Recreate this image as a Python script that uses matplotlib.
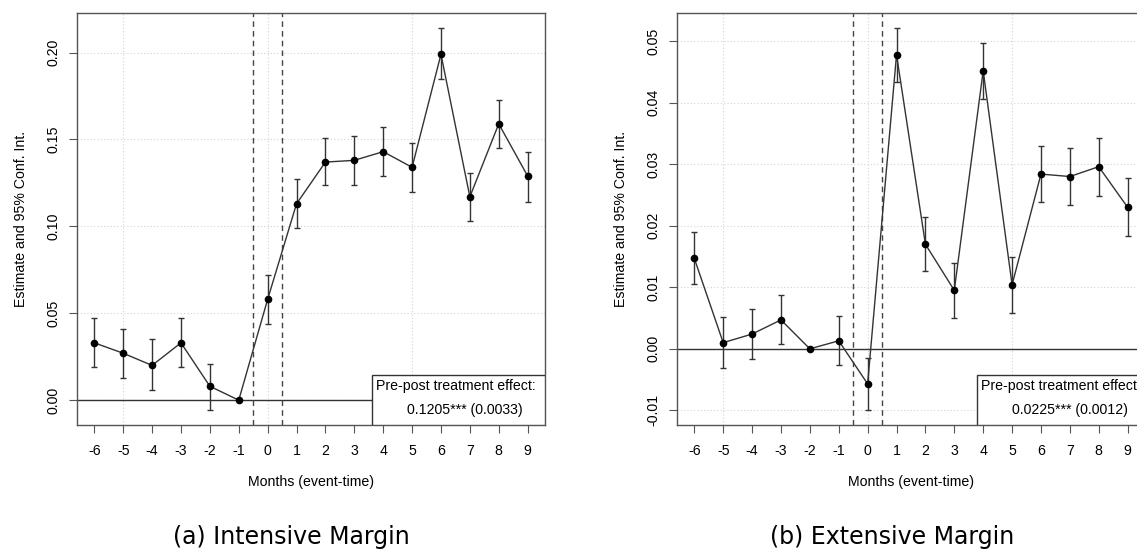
import matplotlib.pyplot as plt
import matplotlib.transforms as mtransforms
import numpy as np

months = [-6, -5, -4, -3, -2, -1, 0, 1, 2, 3, 4, 5, 6, 7, 8, 9]

# intensive margin (panel a)
int_est = [0.033, 0.027, 0.020, 0.033, 0.008, 0.000, 0.058, 0.113,
           0.137, 0.138, 0.143, 0.134, 0.199, 0.117, 0.159, 0.129]
int_lo = [0.019, 0.013, 0.006, 0.019, -0.0055, 0.000, 0.044, 0.099,
          0.124, 0.124, 0.129, 0.120, 0.185, 0.103, 0.145, 0.114]
int_hi = [0.047, 0.041, 0.035, 0.047, 0.021, 0.000, 0.072, 0.127,
          0.151, 0.152, 0.157, 0.148, 0.214, 0.131, 0.173, 0.143]

# extensive margin (panel b)
ext_est = [0.0147, 0.0010, 0.0024, 0.0047, 0.0000, 0.0013, -0.0057, 0.0478,
           0.0170, 0.0095, 0.0452, 0.0104, 0.0284, 0.0280, 0.0296, 0.0230]
ext_lo = [0.0105, -0.0031, -0.0017, 0.0008, 0.0000, -0.0026, -0.0099, 0.0434,
          0.0127, 0.0050, 0.0406, 0.0058, 0.0238, 0.0234, 0.0249, 0.0183]
ext_hi = [0.0190, 0.0052, 0.0064, 0.0087, 0.0000, 0.0053, -0.0015, 0.0521,
          0.0214, 0.0140, 0.0497, 0.0150, 0.0330, 0.0327, 0.0343, 0.0277]

int_yticks = [0.00, 0.05, 0.10, 0.15, 0.20]
ext_yticks = [-0.01, 0.00, 0.01, 0.02, 0.03, 0.04, 0.05]

int_note = "0.1205*** (0.0033)"
ext_note = "0.0225*** (0.0012)"

plt.rcParams['font.family'] = ['Liberation Sans', 'DejaVu Sans']
FS = 10.2


def event_plot(ax, est, lo, hi, yticks, note, box_left):
    est = np.array(est)
    lo = np.array(lo)
    hi = np.array(hi)
    x = np.array(months)
    ymin, ymax = lo.min(), hi.max()
    pad = (ymax - ymin) * 0.04
    ax.set_xlim(-6.6, 9.6)
    ax.set_ylim(ymin - pad, ymax + pad)

    # grid like R's grid()
    for gx in [-5, 0, 5]:
        ax.axvline(gx, color='#d3d3d3', lw=0.8, ls=(0, (1, 2)), zorder=0)
    for gy in yticks:
        ax.axhline(gy, color='#d3d3d3', lw=0.8, ls=(0, (1, 2)), zorder=0)

    ax.axhline(0, color='#333333', lw=1.0, zorder=1)
    ax.axvline(-0.5, color='#444444', lw=1.0, ls=(0, (4, 3)), zorder=1)
    ax.axvline(0.5, color='#444444', lw=1.0, ls=(0, (4, 3)), zorder=1)

    ax.plot(x, est, color='#333333', lw=1.0, zorder=2)
    ax.errorbar(x, est, yerr=[est - lo, hi - est], fmt='o', color='black',
                ms=4.5, ecolor='#333333', elinewidth=1.0, capsize=2.5,
                capthick=1.0, zorder=3)

    ax.set_xticks(months)
    ax.set_xticklabels([str(m) for m in months], fontsize=FS)
    ax.set_yticks(yticks)
    ax.set_yticklabels(["%.2f" % t for t in yticks], fontsize=FS,
                       rotation=90, va='center')
    ax.tick_params(direction='out', length=6, width=0.8, color='#555555')
    ax.tick_params(axis='x', pad=8)
    ax.tick_params(axis='y', pad=6)
    for s in ax.spines.values():
        s.set_color('#555555')
        s.set_linewidth(1.0)

    ax.set_xlabel("Months (event-time)", fontsize=FS, labelpad=12)
    ax.set_ylabel("Estimate and 95% Conf. Int.", fontsize=FS, labelpad=13)

    # treatment effect box (x in data units, y in axes fraction)
    trans = mtransforms.blended_transform_factory(ax.transData, ax.transAxes)
    ax.add_patch(plt.Rectangle((box_left, 0), 9.6 - box_left, 0.122,
                               transform=trans, facecolor='white',
                               edgecolor='#333333', lw=1.0, zorder=5))
    ax.text(box_left + 0.14, 0.094, "Pre-post treatment effect:", fontsize=FS,
            ha='left', va='center', transform=trans, zorder=6)
    ax.text(box_left + 3.22, 0.036, note, fontsize=FS, ha='center',
            va='center', transform=trans, zorder=6)


fig = plt.figure(figsize=(11.37, 5.51), dpi=100)
ax1 = fig.add_axes([0.0677, 0.2287, 0.4116, 0.7477])
ax2 = fig.add_axes([0.5954, 0.2287, 0.4116, 0.7477])

event_plot(ax1, int_est, int_lo, int_hi, int_yticks, int_note, 3.61)
event_plot(ax2, ext_est, ext_lo, ext_hi, ext_yticks, ext_note, 3.79)

fig.text(0.256, 0.025, "(a) Intensive Margin", fontsize=17,
         family=['DejaVu Sans'], ha='center', va='center')
fig.text(0.785, 0.025, "(b) Extensive Margin", fontsize=17,
         family=['DejaVu Sans'], ha='center', va='center')

fig.savefig("out.png", dpi=100)
